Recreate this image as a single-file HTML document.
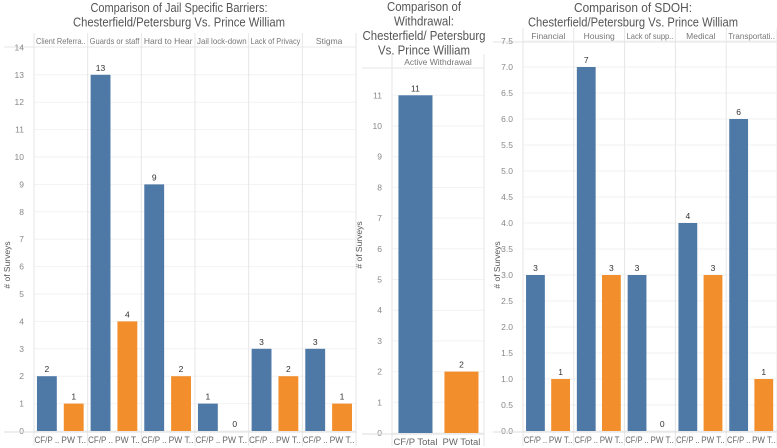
<!DOCTYPE html>
<html><head><meta charset="utf-8"><style>
body{margin:0;background:#fff;}
svg{display:block;font-family:"Liberation Sans",sans-serif;}
</style></head><body>
<svg id="c" width="777" height="448" xmlns="http://www.w3.org/2000/svg"></svg>
<script>
const jailCats=["Client Referra..","Guards or staff","Hard to Hear","Jail lock-down","Lack of Privacy","Stigma"];
const jailCF=[2,13,9,1,3,3];
const jailPW=[1,4,2,0,2,1];
const jailTicks=[0,1,2,3,4,5,6,7,8,9,10,11,12,13,14];
const wdCats=["Active Withdrawal"];
const wdCF=[11];
const wdPW=[2];
const wdTicks=[0,1,2,3,4,5,6,7,8,9,10,11];
const sdohCats=["Financial","Housing","Lack of supp..","Medical","Transportati.."];
const sdohCF=[3,7,3,4,6];
const sdohPW=[1,3,0,3,1];
const sdohTicks=[0,0.5,1,1.5,2,2.5,3,3.5,4,4.5,5,5.5,6,6.5,7,7.5];
const NS="http://www.w3.org/2000/svg";
const svg=document.getElementById('c');
function mk(t,a,txt){const e=document.createElementNS(NS,t);for(const k in a)e.setAttribute(k,a[k]);if(txt!==undefined)e.textContent=txt;svg.appendChild(e);return e;}
function fit(e,max){const w=e.getComputedTextLength();if(w>max){e.setAttribute('textLength',max);e.setAttribute('lengthAdjust','spacingAndGlyphs');}}
function chart(o){
  const y=v=>o.base-v*o.k;
  o.title.forEach((t,i)=>{const e=mk('text',{x:o.tx,y:o.ty+i*o.tl,'text-anchor':'middle','font-size':12.5,fill:'#555',textLength:o.tw[i],lengthAdjust:'spacingAndGlyphs'},t);
  });
  let l=mk('line',{x1:o.x0-30,x2:o.x1,y1:o.hy+5,y2:o.hy+5,stroke:'#e6e6e6'});
  
  o.ticks.forEach(t=>{
    let g=mk('line',{x1:o.x0,x2:o.x1,y1:y(t),y2:y(t),stroke:'#f2f2f2'});
    
    let tx=mk('text',{x:o.x0-10,y:y(t)+3,'text-anchor':'end','font-size':8.5,fill:'#888'},o.fmt(t));
    
  });
  let yt=mk('text',{transform:`translate(${o.yx},${o.yy}) rotate(-90)`,'text-anchor':'middle','font-size':8.5,fill:'#555'},'# of Surveys');
  
  const n=o.cats.length,pw=(o.x1-o.x0)/n;
  o.cats.forEach((c,i)=>{
    const px=o.x0+i*pw;
    let d=mk('line',{x1:px,x2:px,y1:o.hy-9,y2:446,stroke:'#e6e6e6'});
    
    let h=mk('text',{x:px+pw/2,y:o.hy+2,'text-anchor':'middle','font-size':8.5,fill:'#777'},c);
    
    fit(h,pw-4);
    [[o.cf[i],'#4e79a7',o.l1,o.b1],[o.pw[i],'#f28e2b',o.l2,o.b2]].forEach(([v,col,lab,off])=>{
      const bx=px+off*pw;
      let r=mk('rect',{x:bx,y:y(v),width:o.bw*pw,height:o.base-y(v),fill:col});
      
      let vl=mk('text',{x:bx+o.bw*pw/2,y:y(v)-4,'text-anchor':'middle','font-size':8.5,fill:'#333'},String(v));
      
      let xl=mk('text',{x:bx+o.bw*pw/2,y:o.base+12,'text-anchor':'middle','font-size':o.xf,fill:'#666'},lab);
      
      fit(xl,pw/2-2);
    });
  });
  let d=mk('line',{x1:o.x1,x2:o.x1,y1:o.hy-9,y2:446,stroke:'#e6e6e6'});
  
  let b=mk('line',{x1:o.x0-30,x2:o.x1,y1:o.base+1,y2:o.base+1,stroke:'#ddd'});
  
}
chart({id:'jail',title:['Comparison of Jail Specific Barriers:','Chesterfield/Petersburg Vs. Prince William'],tw:[177,212],tx:179,ty:12,tl:14.5,
 x0:34,x1:356,hy:42,base:431,k:27.4,ticks:jailTicks,cats:jailCats,cf:jailCF,pw:jailPW,fmt:t=>String(t),
 yx:10,yy:265,bw:0.37,b1:0.055,b2:0.555,l1:'CF/P ..',l2:'PW T..',xf:9});
chart({id:'withdrawal',title:['Comparison of','Withdrawal:','Chesterfield/ Petersburg','Vs. Prince William'],tw:[74,60,123,92],tx:424,ty:11,tl:14.5,
 x0:392,x1:484,hy:63,base:433,k:30.7,ticks:wdTicks,cats:wdCats,cf:wdCF,pw:wdPW,fmt:t=>String(t),
 yx:362,yy:245,bw:0.37,b1:0.07,b2:0.57,l1:'CF/P Total',l2:'PW Total',xf:9.5});
chart({id:'sdoh',title:['Comparison of SDOH:','Chesterfield/Petersburg Vs. Prince William'],tw:[118,210],tx:633,ty:12,tl:14.5,
 x0:523,x1:777,hy:37,base:431,k:52,ticks:sdohTicks,cats:sdohCats,cf:sdohCF,pw:sdohPW,fmt:t=>t.toFixed(1),
 yx:500,yy:265,bw:0.37,b1:0.06,b2:0.555,l1:'CF/P ..',l2:'PW T..',xf:9});
</script>
</body></html>
